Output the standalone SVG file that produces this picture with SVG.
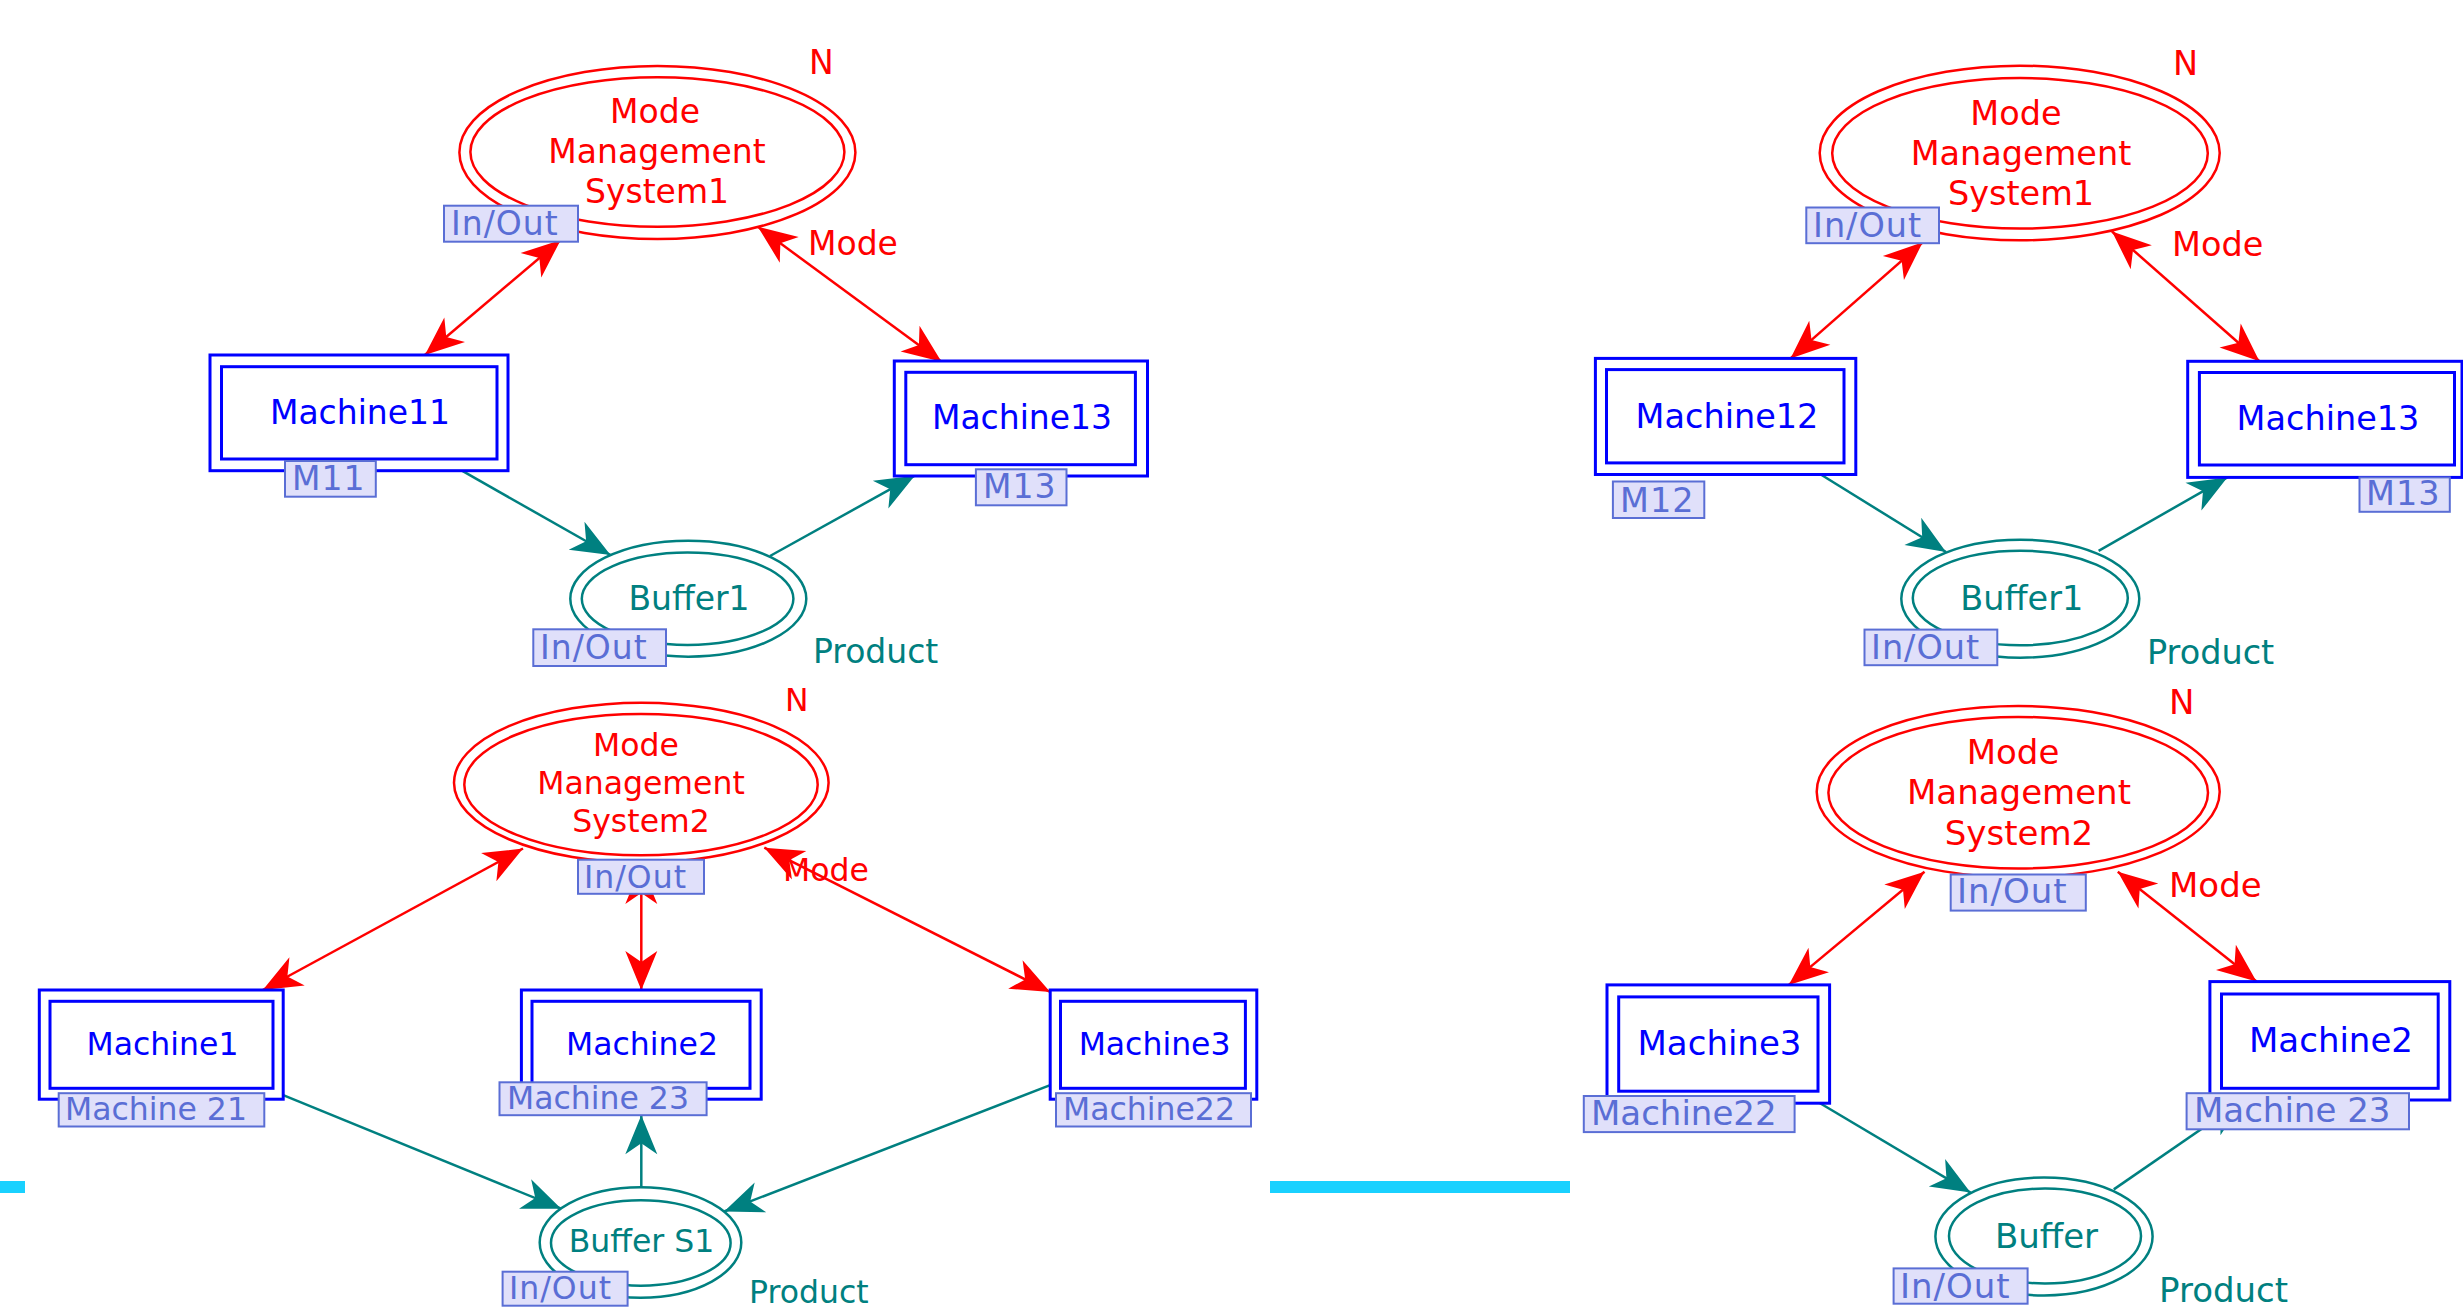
<svg xmlns="http://www.w3.org/2000/svg" width="2463" height="1309" viewBox="0 0 2463 1309">
<style>
text{font-family:"DejaVu Sans","Liberation Sans",sans-serif}
.pa text{font-size:33px}.pb text{font-size:31.5px}.pc text{font-size:33.5px}.pd text{font-size:34px}
.mms ellipse{fill:#fff;stroke:#ff0000;stroke-width:2.5}
.mms text,.lbl-r{fill:#ff0000}
.mach rect{fill:#fff;stroke:#0000ff;stroke-width:3}
.mach text{fill:#0000ff}
.buf ellipse{fill:#fff;stroke:#008080;stroke-width:2.5}
.buf text,.lbl-t{fill:#008080}
.port rect{fill:#e0e0fa;stroke:#5a6ed5;stroke-width:2}
text.port{fill:#5a6ed5;letter-spacing:1px}
.c text{text-anchor:middle}
.red{stroke:#ff0000;stroke-width:2.5;fill:none;marker-start:url(#ar);marker-end:url(#ar)}
.teal{stroke:#008080;stroke-width:2.5;fill:none;marker-end:url(#at)}
.bar{fill:#19d1ff}
</style>
<defs>
<marker id="ar" markerUnits="userSpaceOnUse" orient="auto-start-reverse" refX="0" refY="0" markerWidth="80" markerHeight="80" overflow="visible"><path d="M0,0 L-39,-16 L-28,0 L-39,16 Z" fill="#ff0000"/></marker>
<marker id="at" markerUnits="userSpaceOnUse" orient="auto" refX="0" refY="0" markerWidth="80" markerHeight="80" overflow="visible"><path d="M0,0 L-39,-16 L-28,0 L-39,16 Z" fill="#008080"/></marker>
</defs>
<rect class="bar" x="0" y="1181" width="25" height="12"/>
<rect class="bar" x="1270" y="1181" width="300" height="12"/>
<g id="connectors">
<line class="red" x1="560.7" y1="240" x2="424.9" y2="355"/>
<line class="red" x1="757.8" y1="226.7" x2="941.5" y2="361.7"/>
<line class="teal" x1="461.9" y1="470.7" x2="610.5" y2="555"/>
<line class="teal" x1="770" y1="556" x2="914.7" y2="475.7"/>
<line class="red" x1="523" y1="848.5" x2="262.8" y2="990"/>
<line class="red" x1="641.3" y1="865" x2="641.3" y2="990"/>
<line class="red" x1="764.3" y1="847.7" x2="1050.2" y2="992"/>
<line class="teal" x1="283.2" y1="1095.2" x2="561.2" y2="1208.7"/>
<line class="teal" x1="641.3" y1="1187.4" x2="641.3" y2="1115.2"/>
<line class="teal" x1="1050.2" y1="1085.1" x2="724.1" y2="1211.5"/>
<line class="red" x1="1922.7" y1="242.3" x2="1790.5" y2="358.4"/>
<line class="red" x1="2112" y1="231.5" x2="2259.4" y2="361.3"/>
<line class="teal" x1="1820.8" y1="474.5" x2="1946" y2="552"/>
<line class="teal" x1="2098.6" y1="550.8" x2="2227.3" y2="477.4"/>
<line class="red" x1="1924.5" y1="871.7" x2="1788.8" y2="984.9"/>
<line class="red" x1="2117.8" y1="871.7" x2="2256.5" y2="981.6"/>
<line class="teal" x1="1818" y1="1102" x2="1970.5" y2="1192.6"/>
<line class="teal" x1="2113.8" y1="1189.4" x2="2243.5" y2="1100"/>
</g>
<!-- Panel A -->
<g class="pa">
<g id="mms1a" class="mms c">
<ellipse cx="657.4" cy="152.5" rx="198" ry="86.5"/><ellipse cx="657.4" cy="152" rx="187" ry="74.7"/>
<text x="655" y="122.7">Mode</text><text x="657" y="163.3">Management</text><text x="657" y="203.3">System1</text>
<g class="port"><rect x="444" y="205.7" width="134" height="36"/></g><text class="port" x="451" y="235" style="text-anchor:start">In/Out</text>
</g>
<g id="machine11" class="mach c">
<rect x="210" y="355" width="298" height="115.7"/><rect x="221.5" y="366.7" width="275.5" height="92.3"/>
<text x="360" y="424">Machine11</text>
<g class="port"><rect x="285" y="461" width="90.8" height="35.7"/></g><text class="port" x="292" y="490" style="text-anchor:start">M11</text>
</g>
<g id="machine13a" class="mach c">
<rect x="894.3" y="361" width="253.2" height="115"/><rect x="905.8" y="372.3" width="229.6" height="92.4"/>
<text x="1022" y="429">Machine13</text>
<g class="port"><rect x="975.9" y="469.3" width="90.6" height="36"/></g><text class="port" x="983" y="498" style="text-anchor:start">M13</text>
</g>
<g id="buffer1a" class="buf c">
<ellipse cx="688.3" cy="598.7" rx="118" ry="58"/><ellipse cx="687.6" cy="598.8" rx="105.8" ry="46.2"/>
<text x="689" y="610">Buffer1</text>
<g class="port"><rect x="533.3" y="629.3" width="132.7" height="36.7"/></g><text class="port" x="540" y="658.5" style="text-anchor:start">In/Out</text>
</g>
<text class="lbl-r" x="809" y="74">N</text>
<text class="lbl-r" x="808" y="255">Mode</text>
<text class="lbl-t" x="813" y="663">Product</text>
</g>
<!-- Panel B -->
<g class="pb">
<g id="mms2b" class="mms c">
<ellipse cx="641.3" cy="782.7" rx="187.3" ry="80"/><ellipse cx="641" cy="784.7" rx="176.7" ry="70.6"/>
<text x="636" y="756">Mode</text><text x="641" y="794.3">Management</text><text x="641" y="832.4">System2</text>
<g class="port"><rect x="578" y="859.7" width="126" height="34.1"/></g><text class="port" x="584" y="887.5" style="text-anchor:start">In/Out</text>
</g>
<g id="machine1" class="mach c">
<rect x="39.3" y="990" width="243.9" height="109.2"/><rect x="50" y="1001.3" width="223" height="87"/>
<text x="162.5" y="1055">Machine1</text>
<g class="port"><rect x="58.7" y="1093.2" width="205.6" height="33.3"/></g><text class="port" x="65" y="1119.5" style="text-anchor:start;letter-spacing:0">Machine 21</text>
</g>
<g id="machine2b" class="mach c">
<rect x="521.4" y="990" width="239.8" height="109.2"/><rect x="532" y="1001.3" width="218" height="87"/>
<text x="642" y="1055">Machine2</text>
<g class="port"><rect x="499.5" y="1082.3" width="207.1" height="32.9"/></g><text class="port" x="507" y="1108.5" style="text-anchor:start;letter-spacing:0">Machine 23</text>
</g>
<g id="machine3b" class="mach c">
<rect x="1050.2" y="990" width="206.6" height="109.2"/><rect x="1060.5" y="1001.3" width="184.9" height="87"/>
<text x="1154.6" y="1055">Machine3</text>
<g class="port"><rect x="1056" y="1093.2" width="195" height="33.3"/></g><text class="port" x="1063" y="1119.5" style="text-anchor:start;letter-spacing:0">Machine22</text>
</g>
<g id="bufferS1" class="buf c">
<ellipse cx="640.5" cy="1242.5" rx="100.8" ry="55.2"/><ellipse cx="640.8" cy="1243" rx="89.8" ry="42.7"/>
<text x="641.5" y="1252.4">Buffer S1</text>
<g class="port"><rect x="502.6" y="1271.7" width="125" height="34"/></g><text class="port" x="509" y="1299" style="text-anchor:start">In/Out</text>
</g>
<text class="lbl-r" x="785" y="711">N</text>
<text class="lbl-r" x="783" y="880.6">Mode</text>
<text class="lbl-t" x="749" y="1303">Product</text>
</g>
<!-- Panel C -->
<g class="pc">
<g id="mms1c" class="mms c">
<ellipse cx="2019.7" cy="153" rx="200" ry="87.3"/><ellipse cx="2020" cy="153.3" rx="187.8" ry="75.3"/>
<text x="2016" y="125">Mode</text><text x="2021" y="164.5">Management</text><text x="2021" y="205">System1</text>
<g class="port"><rect x="1806.3" y="207.5" width="132.7" height="35.7"/></g><text class="port" x="1813" y="237" style="text-anchor:start">In/Out</text>
</g>
<g id="machine12" class="mach c">
<rect x="1595.4" y="358.4" width="260.4" height="116.1"/><rect x="1606.5" y="369.6" width="237.5" height="93.3"/>
<text x="1727" y="427.6">Machine12</text>
<g class="port"><rect x="1612.9" y="481.5" width="91.4" height="36.5"/></g><text class="port" x="1620" y="511.5" style="text-anchor:start">M12</text>
</g>
<g id="machine13c" class="mach c">
<rect x="2187.7" y="361.3" width="274.3" height="116.1"/><rect x="2199.4" y="372.5" width="255.1" height="92.5"/>
<text x="2328" y="429.7">Machine13</text>
<g class="port"><rect x="2359.5" y="477.4" width="90.3" height="34.4"/></g><text class="port" x="2366" y="505.2" style="text-anchor:start">M13</text>
</g>
<g id="buffer1c" class="buf c">
<ellipse cx="2020.3" cy="598.7" rx="119" ry="59"/><ellipse cx="2020.3" cy="598" rx="107.5" ry="47.3"/>
<text x="2021.8" y="610">Buffer1</text>
<g class="port"><rect x="1864.5" y="629.6" width="132.8" height="35.6"/></g><text class="port" x="1871" y="658.6" style="text-anchor:start">In/Out</text>
</g>
<text class="lbl-r" x="2173" y="75">N</text>
<text class="lbl-r" x="2172" y="256.4">Mode</text>
<text class="lbl-t" x="2147" y="664">Product</text>
</g>
<!-- Panel D -->
<g class="pd">
<g id="mms2d" class="mms c">
<ellipse cx="2018.2" cy="791.7" rx="201.5" ry="85.7"/><ellipse cx="2018.2" cy="792.7" rx="189.8" ry="75.8"/>
<text x="2013" y="764.2">Mode</text><text x="2019" y="804.3">Management</text><text x="2019" y="844.5">System2</text>
<g class="port"><rect x="1950.7" y="874.5" width="135.1" height="36.1"/></g><text class="port" x="1957" y="903.4" style="text-anchor:start">In/Out</text>
</g>
<g id="machine3d" class="mach c">
<rect x="1607" y="984.9" width="222.6" height="118.3"/><rect x="1618.7" y="996.9" width="199.3" height="94.3"/>
<text x="1719.5" y="1055">Machine3</text>
<g class="port"><rect x="1583.8" y="1096" width="210.8" height="36.1"/></g><text class="port" x="1591" y="1125.2" style="text-anchor:start;letter-spacing:0">Machine22</text>
</g>
<g id="machine2d" class="mach c">
<rect x="2209.9" y="981.6" width="239.9" height="118.4"/><rect x="2221.5" y="994" width="216.7" height="94.3"/>
<text x="2331" y="1052.2">Machine2</text>
<g class="port"><rect x="2186.6" y="1093.2" width="222.4" height="36.1"/></g><text class="port" x="2194" y="1122" style="text-anchor:start;letter-spacing:0">Machine 23</text>
</g>
<g id="bufferd" class="buf c">
<ellipse cx="2044" cy="1236.5" rx="108.6" ry="59"/><ellipse cx="2045" cy="1236" rx="96" ry="47.5"/>
<text x="2046.5" y="1247.6">Buffer</text>
<g class="port"><rect x="1893.6" y="1268.4" width="134" height="35.3"/></g><text class="port" x="1900" y="1297.5" style="text-anchor:start">In/Out</text>
</g>
<text class="lbl-r" x="2169" y="714">N</text>
<text class="lbl-r" x="2169" y="897.4">Mode</text>
<text class="lbl-t" x="2159" y="1301.7">Product</text>
</g>
</svg>
